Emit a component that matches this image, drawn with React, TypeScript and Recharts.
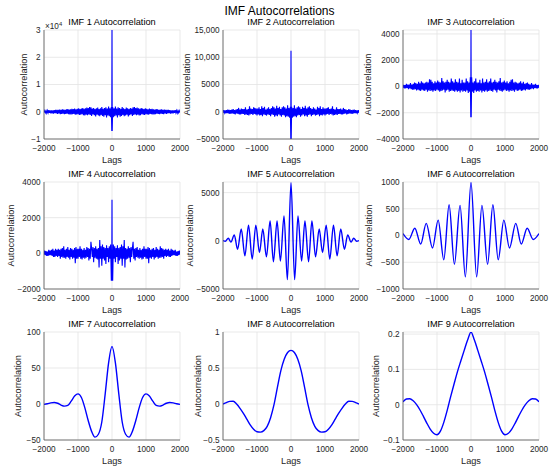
import { CartesianGrid, Line, LineChart, XAxis, YAxis } from 'recharts';

// ---- data (one-sided: lag >= 0, autocorrelation is symmetric) ----

const lagTicks = [-2000, -1000, 0, 1000, 2000];

const smoothLags = [0, 100, 200, 300, 400, 500, 600, 700, 800, 900, 1000, 1100, 1200, 1300, 1400, 1500, 1600, 1700, 1800, 1900, 2000];

// noisy IMFs: lag 0, the dip right next to it, then every 20 lags out to 2000
const noiseStep = 20;
const dipLag = 6;

const imf1Centre = [30000, -7100];
const imf1Noise = [
  1700, -2000, 1300, -1600, 1900, -1400, 1200, -2100, 1600, -1300,
  1400, -1800, 1100, -1500, 1700, -1200, 1300, -1600, 1000, -1400,
  1500, -1100, 1300, -1700, 1000, -1300, 1400, -1000, 1200, -1500,
  1600, -1200, 1700, -1000, 1400, -1300, 1500, -1100, 1300, -1400,
  1100, -1300, 1400, -900, 1200, -1100, 1000, -1200, 1300, -900,
  1100, -1000, 900, -1100, 1200, -800, 1000, -900, 1100, -1000,
  900, -1000, 800, -900, 1000, -700, 900, -800, 700, -900,
  800, -700, 900, -800, 700, -900, 800, -600, 700, -800,
  700, -600, 700, -500, 600, -700, 550, -600, 500, -550,
  500, -450, 550, -400, 450, -500, 400, -350, 400, -300,
];

const imf2Centre = [11200, -5000];
const imf2Noise = [
  900, -1100, 700, -900, 1200, -800, 600, -1000, 800, -700,
  1000, -600, 800, -900, 500, -700, 900, -500, 700, -800,
  1100, -700, 600, -900, 800, -600, 1000, -500, 700, -800,
  500, -600, 800, -500, 600, -700, 400, -600, 900, -500,
  700, -800, 1000, -600, 500, -700, 800, -500, 600, -700,
  600, -500, 700, -400, 800, -600, 500, -400, 600, -500,
  1000, -700, 500, -600, 400, -500, 800, -600, 500, -400,
  500, -400, 600, -500, 400, -500, 700, -400, 500, -300,
  400, -500, 300, -400, 500, -300, 400, -350, 300, -400,
  350, -300, 400, -250, 300, -300, 250, -200, 300, -200,
];

const imf3Centre = [4300, -2350];
const imf3Noise = [
  700, -400, 300, -500, 400, -300, 600, -400, 300, -350,
  300, -400, 500, -300, 250, -450, 600, -350, 300, -400,
  350, -300, 550, -400, 300, -350, 400, -300, 600, -350,
  300, -400, 350, -250, 500, -300, 350, -450, 300, -250,
  400, -300, 650, -350, 300, -400, 350, -300, 450, -250,
  300, -350, 400, -300, 250, -400, 350, -300, 500, -350,
  550, -300, 300, -400, 350, -250, 300, -350, 250, -300,
  300, -250, 400, -350, 250, -300, 350, -250, 200, -300,
  250, -200, 300, -250, 200, -250, 150, -200, 250, -150,
  150, -200, 150, -100, 200, -150, 100, -150, 120, -100,
];

const imf4Centre = [3000, -1500];
const imf4Noise = [
  -1500, 500, -300, 400, -500, 300, -200, 450, -600, 300,
  -400, 350, -300, 500, -700, 400, -300, 750, -800, 300,
  -350, 250, -300, 400, -250, 300, -500, 350, -200, 300,
  650, -300, 250, -400, 300, -200, 350, -250, 200, -300,
  300, -250, 200, -350, 250, -300, 400, -200, 250, -300,
  250, -300, 350, -550, 300, -250, 200, -300, 250, -200,
  300, -350, 200, -250, 350, -200, 250, -300, 200, -250,
  400, -250, 300, -200, 250, -300, 200, -150, 250, -200,
  200, -150, 250, -200, 150, -200, 250, -150, 200, -100,
  150, -100, 200, -150, 100, -150, 120, -100, 150, -80,
];

// oscillating IMFs: lags of the peaks / troughs and their values
const imf5Lags = [0, 107, 205, 312, 410, 517, 615, 722, 829, 927, 1034, 1141, 1249, 1356, 1463, 1571, 1668, 1766, 1844, 1930, 2000];
const imf5Values = [6030, -4030, 2580, -2100, 2050, -2170, 2050, -1660, 1220, -1220, 1630, -1900, 1630, -1560, 1220, -880, 610, -140, 270, -50, 20];

const imf6Lags = [0, 166, 322, 488, 644, 800, 966, 1132, 1317, 1478, 1653, 1829, 2000];
const imf6Values = [990, -772, 564, -540, 576, -454, 288, -233, 227, -160, 135, -74, 37];

const imf7Values = [80, 57, 14, -25, -42, -46, -38, -23, -5, 9, 14, 11, 4, -2, -3, -1.5, 1, 2, 1.5, 0.3, -0.5];
const imf8Values = [0.745, 0.715, 0.62, 0.46, 0.23, -0.01, -0.19, -0.31, -0.37, -0.39, -0.385, -0.35, -0.29, -0.21, -0.13, -0.06, 0, 0.038, 0.036, 0.02, 0];
const imf9Values = [0.206, 0.183, 0.154, 0.124, 0.093, 0.058, 0.022, -0.016, -0.05, -0.075, -0.085, -0.081, -0.069, -0.052, -0.033, -0.015, 0, 0.011, 0.017, 0.016, 0.008];

// ---- helpers ----

const noiseLags = imf1Noise.map((_, i) => (i + 1) * noiseStep);

function mirror(lags: number[], values: number[]) {
  const right = lags.map((lag, i) => ({ lag, value: values[i] }));
  const left = right
    .filter((p) => p.lag > 0)
    .map((p) => ({ lag: -p.lag, value: p.value }))
    .reverse();
  return [...left, ...right];
}

function noisy(centre: number[], noise: number[]) {
  return mirror([0, dipLag, ...noiseLags], [...centre, ...noise]);
}

const MINUS = '\u2212';
function fmt(v: number) {
  const a = Math.abs(v);
  const s = a >= 10000 ? a.toLocaleString('en-US') : String(Number(a.toFixed(4)));
  return v < 0 ? MINUS + s : s;
}

const FONT = '"Liberation Sans", Arial, Helvetica, sans-serif';
const TEXT = '#262626';
const PLOT_W = 136;
const COL_X = [44, 223, 403];
const ROW_Y = [30, 182, 332];
const ROW_H = [109, 107, 108];
const PAD_L = 60;
const PAD_T = 20;

interface Panel {
  title: string;
  data: { lag: number; value: number }[];
  domain: [number, number];
  ticks: number[];
  format?: (v: number) => string;
  labelDist: number;
  smooth: boolean;
  exponent?: string;
}

const panels: Panel[] = [
  { title: 'IMF 1 Autocorrelation', data: noisy(imf1Centre, imf1Noise), domain: [-10000, 30000], ticks: [-10000, 0, 10000, 20000, 30000], format: (v) => fmt(v / 10000), labelDist: 20, smooth: false, exponent: '4' },
  { title: 'IMF 2 Autocorrelation', data: noisy(imf2Centre, imf2Noise), domain: [-5000, 15000], ticks: [-5000, 0, 5000, 10000, 15000], labelDist: 36, smooth: false },
  { title: 'IMF 3 Autocorrelation', data: noisy(imf3Centre, imf3Noise), domain: [-4000, 4300], ticks: [-4000, -2000, 0, 2000, 4000], labelDist: 35, smooth: false },
  { title: 'IMF 4 Autocorrelation', data: noisy(imf4Centre, imf4Noise), domain: [-2000, 4000], ticks: [-2000, 0, 2000, 4000], labelDist: 33, smooth: false },
  { title: 'IMF 5 Autocorrelation', data: mirror(imf5Lags, imf5Values), domain: [-5000, 6100], ticks: [-5000, 0, 5000], labelDist: 33, smooth: true },
  { title: 'IMF 6 Autocorrelation', data: mirror(imf6Lags, imf6Values), domain: [-1000, 1000], ticks: [-1000, -500, 0, 500, 1000], labelDist: 34, smooth: true },
  { title: 'IMF 7 Autocorrelation', data: mirror(smoothLags, imf7Values), domain: [-50, 100], ticks: [-50, 0, 50, 100], labelDist: 26, smooth: true },
  { title: 'IMF 8 Autocorrelation', data: mirror(smoothLags, imf8Values), domain: [-0.5, 1], ticks: [-0.5, 0, 0.5, 1], labelDist: 25, smooth: true },
  { title: 'IMF 9 Autocorrelation', data: mirror(smoothLags, imf9Values), domain: [-0.1, 0.206], ticks: [-0.1, 0, 0.1, 0.2], labelDist: 27, smooth: true },
];

function AutocorrPanel({ panel, col, row }: { panel: Panel; col: number; row: number }) {
  const plotH = ROW_H[row];
  const left = COL_X[col];
  const top = ROW_Y[row];
  const tick = { fontSize: 8.2, fill: TEXT, fontFamily: FONT };
  const axisLine = { stroke: '#555', strokeWidth: 0.8 };

  const yLabel = () => {
    const x = PAD_L - panel.labelDist;
    const y = PAD_T + plotH / 2;
    return (
      <text x={x} y={y} transform={`rotate(-90 ${x} ${y})`} textAnchor="middle" dominantBaseline="central" fontSize={9.2} fill={TEXT} fontFamily={FONT}>
        Autocorrelation
      </text>
    );
  };
  const xLabel = () => (
    <text x={PAD_L + PLOT_W / 2} y={PAD_T + plotH + 23.5} textAnchor="middle" fontSize={9.2} fill={TEXT} fontFamily={FONT}>
      Lags
    </text>
  );

  return (
    <>
      <div style={{ position: 'absolute', left, top: top - 4.5 - 7.8, width: PLOT_W, textAlign: 'center', fontSize: 9.2, lineHeight: '9.2px', color: '#000', whiteSpace: 'nowrap' }}>
        {panel.title}
      </div>
      {panel.exponent && (
        <div style={{ position: 'absolute', left: left + 1, top: top - 10, fontSize: 8.2, lineHeight: '8.2px', color: TEXT, whiteSpace: 'nowrap' }}>
          {'\u00d710'}
          <sup style={{ fontSize: 5.8, verticalAlign: '3px' }}>{panel.exponent}</sup>
        </div>
      )}
      <div style={{ position: 'absolute', left: left - PAD_L, top: top - PAD_T }}>
        <LineChart width={PLOT_W + PAD_L + 10} height={plotH + PAD_T + 40} data={panel.data} margin={{ top: PAD_T, right: 10, bottom: 0, left: 0 }}>
          <CartesianGrid stroke="#e3e3e3" strokeWidth={0.8} />
          <XAxis
            dataKey="lag"
            type="number"
            domain={[-2000, 2000]}
            ticks={lagTicks}
            interval={0}
            allowDataOverflow
            tickFormatter={fmt}
            tick={tick}
            tickLine={false}
            tickSize={0}
            tickMargin={6}
            axisLine={axisLine}
            height={40}
            label={xLabel}
          />
          <YAxis
            type="number"
            domain={panel.domain}
            ticks={panel.ticks}
            interval={0}
            allowDataOverflow
            tickFormatter={panel.format ?? fmt}
            tick={tick}
            tickLine={false}
            tickSize={0}
            tickMargin={3.5}
            axisLine={axisLine}
            width={PAD_L}
            label={yLabel}
          />
          <Line
            dataKey="value"
            type={panel.smooth ? 'monotone' : 'linear'}
            stroke="#0000ff"
            strokeWidth={panel.smooth ? 1.4 : 1.1}
            dot={false}
            isAnimationActive={false}
          />
        </LineChart>
      </div>
    </>
  );
}

export default function App() {
  return (
    <div style={{ position: 'absolute', left: 0, top: 0, width: 550, height: 473, background: '#fff', fontFamily: FONT, overflow: 'hidden' }}>
      <div style={{ position: 'absolute', left: 179.5, top: 5, width: 200, textAlign: 'center', fontSize: 12, lineHeight: '12px', color: '#000' }}>
        IMF Autocorrelations
      </div>
      {panels.map((p, i) => (
        <AutocorrPanel key={p.title} panel={p} col={i % 3} row={Math.floor(i / 3)} />
      ))}
    </div>
  );
}
